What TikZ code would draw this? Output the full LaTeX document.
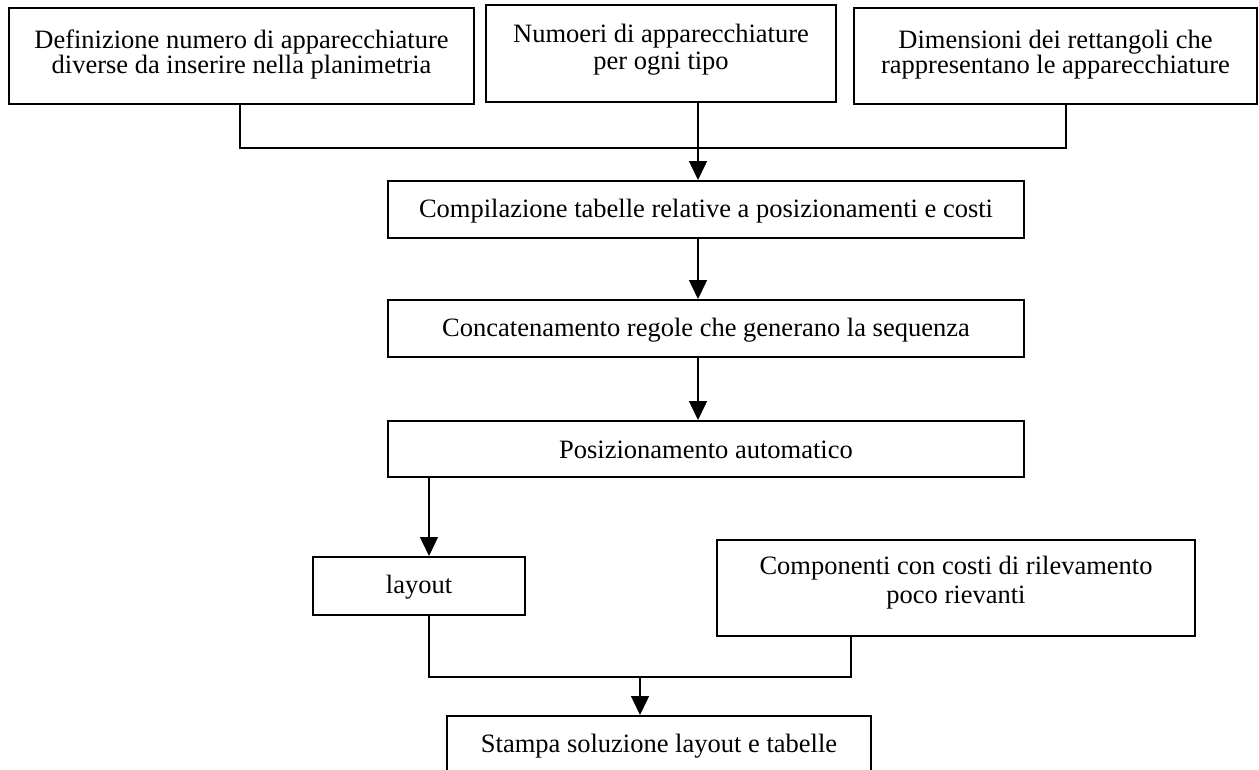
\documentclass[tikz,border=0pt]{standalone}
\usepackage{fontspec}
\setmainfont{Liberation Serif}
\usetikzlibrary{arrows.meta,calc}

\tikzset{
  box/.style={draw=black, line width=2pt, inner sep=0pt, rectangle},
  txt/.style={inner sep=0pt, align=center, font=\fontsize{26.5}{29}\selectfont},
  tighttxt/.style={txt, font=\fontsize{26.5}{24.5}\selectfont},
  link/.style={draw=black, line width=1.5pt},
  arrowlink/.style={link, -{Triangle[length=19pt,width=18pt]}}
}

\begin{document}
\begin{tikzpicture}[x=1pt,y=-1pt]
\useasboundingbox (0,0) rectangle (1259,769);
\clip (0,0) rectangle (1259,769);

% top row of input boxes
\node[box, minimum width=465pt, minimum height=96pt] (b1) at (241.5,56) {};
\node[tighttxt, anchor=north] (b1t) at (241.5,30) {Definizione numero di apparecchiature\\diverse da inserire nella planimetria};

\node[box, minimum width=350pt, minimum height=97pt] (b2) at (661,53.5) {};
\node[tighttxt, anchor=north, font=\fontsize{26.5}{26.5}\selectfont] (b2t) at (661,24) {Numoeri di apparecchiature\\per ogni tipo};

\node[box, minimum width=403pt, minimum height=96pt] (b3) at (1055.5,56) {};
\node[tighttxt, anchor=north] (b3t) at (1055.5,30) {Dimensioni dei rettangoli che\\rappresentano le apparecchiature};

% main chain
\node[box, minimum width=636pt, minimum height=57pt] (b4) at (706,209.5) {};
\node[txt] (b4t) at (706,211) {Compilazione tabelle relative a posizionamenti e costi};

\node[box, minimum width=636pt, minimum height=57pt] (b5) at (706,328.5) {};
\node[txt] (b5t) at (706,330) {Concatenamento regole che generano la sequenza};

\node[box, minimum width=636pt, minimum height=56pt] (b6) at (706,449) {};
\node[txt] (b6t) at (706,450) {Posizionamento automatico};

% lower boxes
\node[box, minimum width=212pt, minimum height=58pt] (lay) at (419,586) {};
\node[txt] (layt) at (419,587) {layout};

\node[box, minimum width=478pt, minimum height=96pt] (comp) at (956,588) {};
\node[txt, anchor=north] (compt) at (956,556) {Componenti con costi di rilevamento\\poco rievanti};

\node[box, minimum width=424pt, minimum height=57pt] (st) at (659,744.5) {};
\node[txt] (stt) at (659,746) {Stampa soluzione layout e tabelle};

% guide coordinates for the connectors
\coordinate (xmain) at (698,0);
\coordinate (xb1) at (240,0);
\coordinate (xb3) at (1066,0);
\coordinate (ytop) at (0,148);
\coordinate (xlay) at (429,0);
\coordinate (xcomp) at (851,0);
\coordinate (ybot) at (0,677);
\coordinate (xst) at (640,0);

% collector from the three inputs
\draw[link] (b1.south -| xb1) -- (xb1 |- ytop) -- (xb3 |- ytop) -- (b3.south -| xb3);
\draw[arrowlink] (b2.south -| xmain) -- (b4.north -| xmain);

\draw[arrowlink] (b4.south -| xmain) -- (b5.north -| xmain);
\draw[arrowlink] (b5.south -| xmain) -- (b6.north -| xmain);
\draw[arrowlink] (b6.south -| xlay) -- (lay.north -| xlay);

% collector into the final box
\draw[link] (lay.south -| xlay) -- (xlay |- ybot) -- (xcomp |- ybot) -- (comp.south -| xcomp);
\coordinate (jst) at (xst |- ybot);
\draw[arrowlink] (jst) -- (st.north -| xst);
\end{tikzpicture}
\end{document}
